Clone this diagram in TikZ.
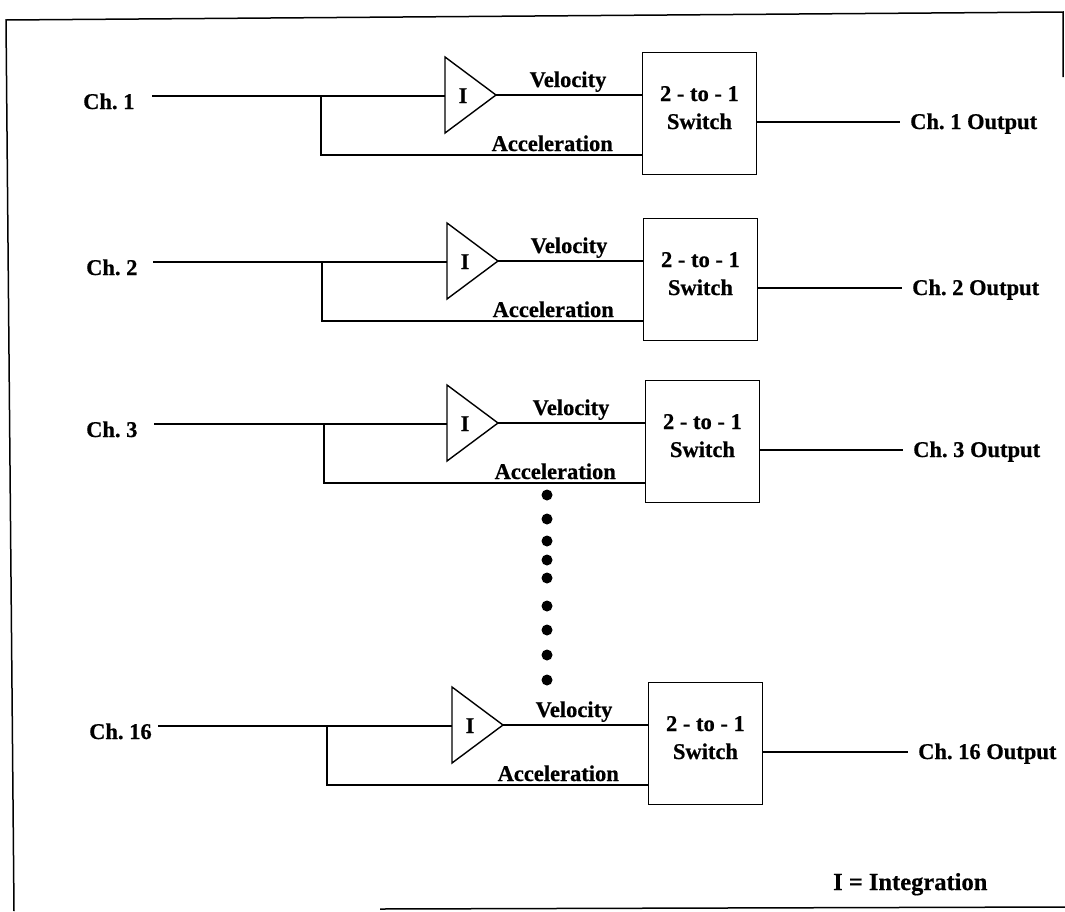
\documentclass[tikz,border=0pt]{standalone}
\usepackage{fontspec}
\setmainfont{Liberation Serif}[BoldFeatures={FakeBold=0.6}]
\usetikzlibrary{calc}
\newcommand\chanrow[9]{%
  \node[txt, anchor=base west] (lab#1) at (#4, #3+13) {Ch.\ #2};
  \coordinate (in#1) at (#5, #3);
  \coordinate (tl#1) at (#6, #3);
  \coordinate (tip#1) at (#6+51, #3-1);
  \draw[wire] (#6, #3-39) -- (tip#1) -- (#6, #3+37) -- cycle;
  \node[txt, anchor=base] (int#1) at (#6+18, #3+7) {I};
  \coordinate (br#1) at (#7, #3);
  \coordinate (acc#1) at (#7, #3+59);
  \node[switchbox, anchor=north west] (box#1) at (#8, #3-44) {};
  \node[txt, anchor=base] (sa#1) at ($(box#1.north)+(0,49)$) {2 - to - 1};
  \node[txt, anchor=base] (sb#1) at ($(box#1.north)+(0,77)$) {Switch};
  \draw[wire] (in#1) -- (tl#1);
  \draw[wire] (tip#1) -- (tip#1 -| box#1.west);
  \draw[wire] (br#1) -- (acc#1) -- (acc#1 -| box#1.west);
  \node[txt, anchor=base] (vel#1) at (#8-74, #3-9) {Velocity};
  \node[txt, anchor=base east] (acl#1) at (#8-29, #3+55) {Acceleration};
  \coordinate (oe#1) at (#9, #3+26);
  \node[txt, anchor=base west] (out#1) at (#9+10, #3+33) {Ch.\ #2 Output};
  \draw[wire] (box#1.east |- oe#1) -- (oe#1);
}
\begin{document}
\begin{tikzpicture}[x=1pt, y=-1pt,
  txt/.style={font=\bfseries\fontsize{22.5}{27}\selectfont, inner sep=0pt},
  wire/.style={line width=1.4pt, line join=miter},
  switchbox/.style={draw, line width=1.4pt, minimum width=113.5pt, minimum height=122pt, inner sep=0pt},
  dotmark/.style={circle, fill=black, minimum size=11pt, inner sep=0pt},
  framel/.style={line width=1.5pt}]
\useasboundingbox (0,0) rectangle (1065,911);
% frame
\coordinate (fa) at (1063,77);
\coordinate (fb) at (1063,12);
\coordinate (fc) at (6,20);
\coordinate (fd) at (14,911);
\coordinate (fe) at (380,909);
\coordinate (ff) at (1065,907);
\draw[framel] (fa) -- (fb) -- (fc) -- (fd);
\draw[framel] (fe) -- (ff);
% channels
\chanrow{a}{1}{96}{83}{152}{445}{321}{642}{900}
\chanrow{b}{2}{262}{86}{153}{447}{322}{643}{902}
\chanrow{c}{3}{424}{86}{154}{447}{324}{645}{903}
\chanrow{d}{16}{726}{89}{158}{452}{327}{648}{908}
% continuation dots
\foreach \yy [count=\k] in {495,519,541,560,578,606,630,655,680}
  \node[dotmark] (dot\k) at (547,\yy) {};
% legend
\node[txt, font=\bfseries\fontsize{24.5}{29}\selectfont, anchor=base west] (legend) at (833,890) {I = Integration};
\end{tikzpicture}
\end{document}
